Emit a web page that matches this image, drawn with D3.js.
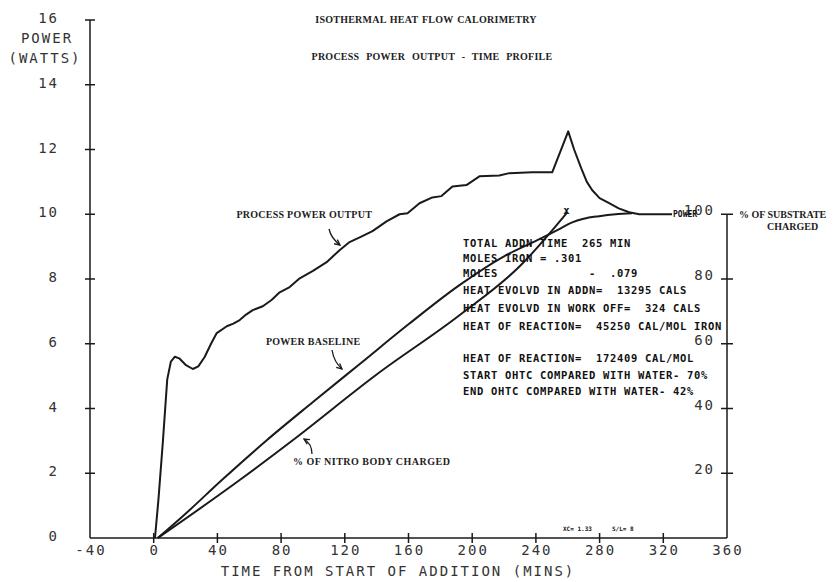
<!DOCTYPE html>
<html>
<head>
<meta charset="utf-8">
<script src="https://cdn.jsdelivr.net/npm/d3@7"></script>
<style>
  html, body { margin: 0; padding: 0; background: #fff; }
  svg { display: block; }
  .plot { font-family: "DejaVu Sans Mono", monospace; font-size: 14px; letter-spacing: 2px; fill: #333; }
  .type { font-family: "Liberation Serif", serif; font-weight: bold; font-size: 10px; fill: #222; }
  .note { font-family: "DejaVu Sans Mono", monospace; font-weight: bold; font-size: 10.5px; letter-spacing: 0.68px; fill: #111; white-space: pre; }
</style>
</head>
<body>
<svg id="chart" width="833" height="582"></svg>
<script>
// Isothermal heat-flow calorimetry: process power output vs. time
const xTicks = [-40, 0, 40, 80, 120, 160, 200, 240, 280, 320, 360];
const yTicks = [0, 2, 4, 6, 8, 10, 12, 14, 16];
const pctTicks = [20, 40, 60, 80, 100];

// process power output (minutes, watts)
const powerT = [0.8, 3, 5.8, 8.5, 10.8, 13.3, 16, 20, 24.6, 28, 32, 36, 39.6, 45.9, 50, 54, 58, 62.2, 68.5, 74, 79.1, 85.4,
  91.7, 100, 108.6, 116.7, 123, 130, 137.4, 146.2, 154.4, 159.4, 166.9, 175, 180.7, 187.6, 196.4, 204.5, 217, 223.3,
  237.7, 250.3, 260.3, 264, 268.5, 272, 275.4, 280, 286, 292, 298.6, 304.8, 315, 325.5];
const powerW = [0, 1.2, 3.0, 4.9, 5.45, 5.6, 5.55, 5.35, 5.22, 5.3, 5.59, 6.0, 6.33, 6.54, 6.62, 6.73, 6.9, 7.04, 7.16, 7.35, 7.59, 7.75,
  8.02, 8.25, 8.52, 8.89, 9.14, 9.3, 9.48, 9.78, 10.0, 10.03, 10.34, 10.52, 10.56, 10.86, 10.9, 11.17, 11.2, 11.27,
  11.3, 11.3, 12.56, 12.0, 11.42, 11.0, 10.74, 10.5, 10.34, 10.18, 10.06, 10.0, 10.0, 10.0];

// power baseline (minutes, watts)
const baseT = [2.6, 20, 42.8, 71, 100, 130, 160, 192, 220, 240.9, 255, 262.8, 270, 279.7, 290, 300.4];
const baseW = [0, 0.75, 1.79, 3.02, 4.2, 5.4, 6.6, 7.81, 8.7, 9.2, 9.55, 9.75, 9.86, 9.94, 10.0, 10.03];

// percentage of nitro body charged (minutes, %)
const nitroT = [2.6, 54, 87.3, 140, 192, 230, 259.7];
const nitroP = [0, 17.9, 30.2, 50.5, 68.8, 84, 100.6];

// run summary printed on the plot (fixed-pitch rows)
const summaryRows = [
  "TOTAL ADDN TIME  265 MIN",
  "MOLES IRON = .301",
  "MOLES             -  .079",
  "HEAT EVOLVD IN ADDN=  13295 CALS",
  "HEAT EVOLVD IN WORK OFF=  324 CALS",
  "HEAT OF REACTION=  45250 CAL/MOL IRON",
  "",
  "HEAT OF REACTION=  172409 CAL/MOL",
  "START OHTC COMPARED WITH WATER- 70%",
  "END OHTC COMPARED WITH WATER- 42%"];

const svg = d3.select("#chart");
const x = d3.scaleLinear().domain([-40, 360]).range([90, 727]);
const y = d3.scaleLinear().domain([0, 16]).range([538, 20]);
const yp = d3.scaleLinear().domain([0, 100]).range([538, y(10)]);

const ink = "#1a1a1a";

// left power axis
const gl = svg.append("g");
gl.append("line").attr("x1", x(-40)).attr("x2", x(-40)).attr("y1", y(16)).attr("y2", y(0))
  .attr("stroke", ink).attr("stroke-width", 1.5);
gl.selectAll("line.t").data(yTicks.filter(d => d > 0)).join("line").attr("class", "t")
  .attr("x1", x(-40) - 5).attr("x2", x(-40) + 5).attr("y1", d => y(d)).attr("y2", d => y(d))
  .attr("stroke", ink).attr("stroke-width", 1.5);
gl.selectAll("text").data(yTicks).join("text").attr("class", "plot")
  .attr("x", 59).attr("y", d => y(d) + 3).attr("text-anchor", "end").text(d => d);
svg.append("text").attr("class", "plot").attr("x", 47).attr("y", 43).attr("text-anchor", "middle").text("POWER");
svg.append("text").attr("class", "plot").attr("x", 45).attr("y", 63).attr("text-anchor", "middle").text("(WATTS)");

// bottom time axis
const gb = svg.append("g");
gb.append("line").attr("x1", x(-40)).attr("x2", x(360)).attr("y1", y(0)).attr("y2", y(0))
  .attr("stroke", ink).attr("stroke-width", 1.5);
gb.selectAll("line.t").data(xTicks.slice(1, -1)).join("line").attr("class", "t")
  .attr("x1", d => x(d)).attr("x2", d => x(d)).attr("y1", y(0) - 5).attr("y2", y(0) + 5)
  .attr("stroke", ink).attr("stroke-width", 1.5);
gb.selectAll("text").data(xTicks).join("text").attr("class", "plot")
  .attr("x", d => x(d) + 1).attr("y", 555).attr("text-anchor", "middle").text(d => d);
svg.append("text").attr("class", "plot").attr("x", 398).attr("y", 576).attr("text-anchor", "middle")
  .text("TIME FROM START OF ADDITION (MINS)");

// right percentage axis
const gr = svg.append("g");
gr.append("line").attr("x1", x(360)).attr("x2", x(360)).attr("y1", yp(100)).attr("y2", yp(0))
  .attr("stroke", ink).attr("stroke-width", 1.5);
gr.selectAll("line.t").data(pctTicks).join("line").attr("class", "t")
  .attr("x1", x(360) - 6).attr("x2", x(360) + 6).attr("y1", d => yp(d)).attr("y2", d => yp(d))
  .attr("stroke", ink).attr("stroke-width", 1.5);
gr.selectAll("text").data(pctTicks).join("text").attr("class", "plot")
  .attr("x", 715).attr("y", d => yp(d) + 1).attr("text-anchor", "end").text(d => d);
svg.append("text").attr("class", "type").attr("x", 739).attr("y", 218).text("% OF SUBSTRATE");
svg.append("text").attr("class", "type").attr("x", 767).attr("y", 230).text("CHARGED");

// titles
svg.append("text").attr("class", "type").attr("x", 426).attr("y", 23).attr("text-anchor", "middle")
  .style("letter-spacing", "0.25px").style("word-spacing", "1px")
  .text("ISOTHERMAL HEAT FLOW CALORIMETRY");
svg.append("text").attr("class", "type").attr("x", 432).attr("y", 60).attr("text-anchor", "middle")
  .style("letter-spacing", "0.25px").style("word-spacing", "4px")
  .text("PROCESS POWER OUTPUT - TIME PROFILE");

// curves
const lineW = d3.line().x(d => x(d[0])).y(d => y(d[1]));
const lineP = d3.line().x(d => x(d[0])).y(d => yp(d[1]));
svg.append("path").attr("d", lineW(d3.zip(powerT, powerW)))
  .attr("fill", "none").attr("stroke", ink).attr("stroke-width", 2).attr("stroke-linejoin", "round");
svg.append("path").attr("d", lineW.curve(d3.curveMonotoneX)(d3.zip(baseT, baseW)))
  .attr("fill", "none").attr("stroke", ink).attr("stroke-width", 2);
svg.append("path").attr("d", lineP.curve(d3.curveMonotoneX)(d3.zip(nitroT, nitroP)))
  .attr("fill", "none").attr("stroke", ink).attr("stroke-width", 2);

// end of addition marker and curve tag
svg.append("text").attr("class", "note").attr("x", x(nitroT[nitroT.length - 1]) - 4)
  .attr("y", yp(nitroP[nitroP.length - 1]) + 2).text("x");
svg.append("text").attr("class", "note").attr("x", x(powerT[powerT.length - 1]) + 1).attr("y", y(10) + 3)
  .style("font-size", "8px").style("letter-spacing", "0px").text("POWER");

// curve labels with leader arrows
function leader(x0, y0, cx, cy, x1, y1) {
  svg.append("path").attr("d", `M${x0},${y0} Q${cx},${cy} ${x1},${y1}`)
    .attr("fill", "none").attr("stroke", ink).attr("stroke-width", 1.3);
  const a = Math.atan2(y1 - cy, x1 - cx);
  const h = 6;
  svg.append("path").attr("d",
    `M${x1 - h * Math.cos(a - 0.45)},${y1 - h * Math.sin(a - 0.45)} L${x1},${y1} L${x1 - h * Math.cos(a + 0.45)},${y1 - h * Math.sin(a + 0.45)}`)
    .attr("fill", "none").attr("stroke", ink).attr("stroke-width", 1.3);
}
svg.append("text").attr("class", "type").attr("x", x(52)).attr("y", y(10) + 4)
  .style("letter-spacing", "0.25px").text("PROCESS POWER OUTPUT");
leader(329, 229, 331, 238, 340, 245);
svg.append("text").attr("class", "type").attr("x", x(70.5)).attr("y", y(6) + 1)
  .style("letter-spacing", "0.25px").text("POWER BASELINE");
leader(332, 350, 334, 362, 342, 369);
svg.append("text").attr("class", "type").attr("x", x(87.5)).attr("y", y(2.3) + 1)
  .style("letter-spacing", "0.5px").text("% OF NITRO BODY CHARGED");
leader(312, 454, 312, 444, 304, 439);

// summary block
const rowY = [243, 258, 273, 290, 308, 326, 342, 358, 375, 391];
svg.selectAll("text.sum").data(summaryRows).join("text").attr("class", "note sum")
  .attr("x", 463).attr("y", (d, i) => rowY[i] + 4).text(d => d);

// plotter footer codes
svg.append("text").attr("class", "note").attr("x", 563).attr("y", 531)
  .style("font-size", "6px").style("letter-spacing", "0px").text("XC= 1.33");
svg.append("text").attr("class", "note").attr("x", 612).attr("y", 531)
  .style("font-size", "6px").style("letter-spacing", "0px").text("S/L= 8");
</script>
</body>
</html>
